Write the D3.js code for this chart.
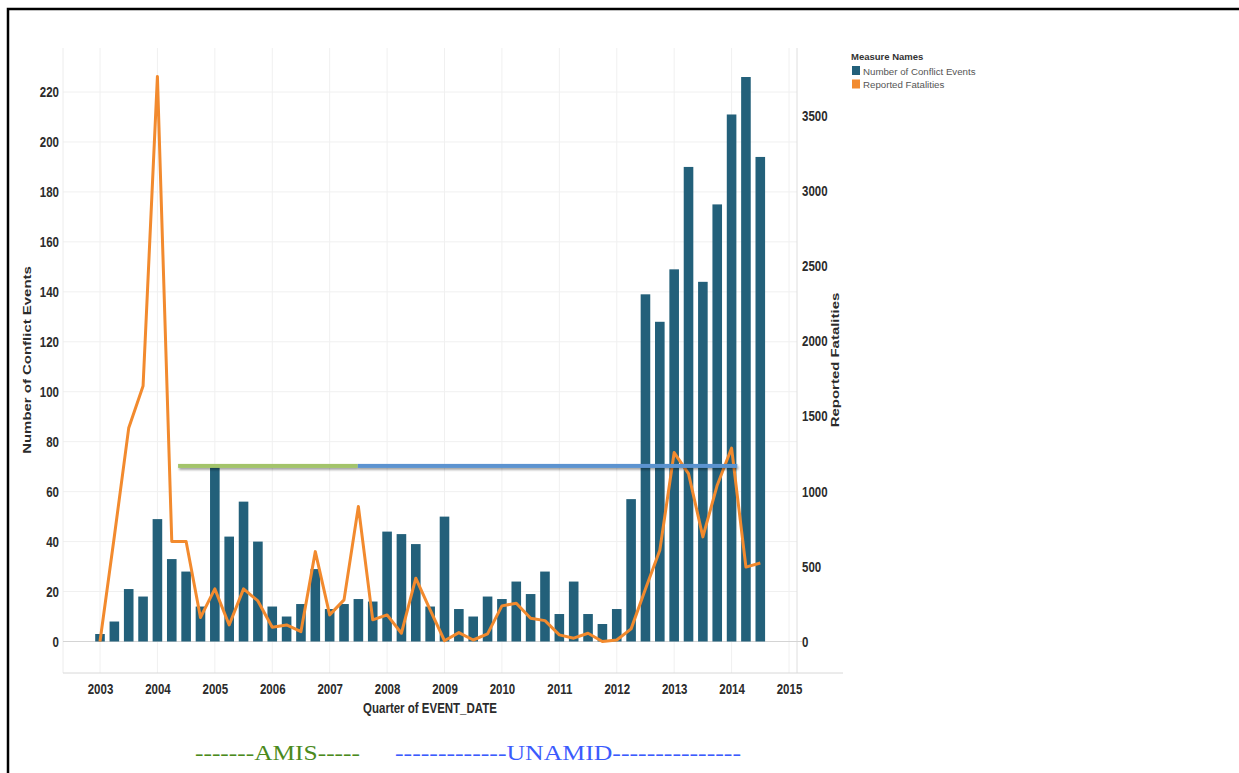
<title>Conflict Events and Fatalities</title>

<script src="https://cdn.jsdelivr.net/npm/d3@7"></script>
<style>
    body {
      margin: 0;
      background: #fff;
      font-family: "Liberation Sans", Arial, sans-serif;
    }
</style>

<body>
    <div id="plot"></div>
</body>

<script>
    // quarterly counts, 2003 Q1 .. 2014 Q3
    var quarters = [];
    for (var yr = 2003; yr <= 2014; yr++) {
        for (var q = 1; q <= 4; q++) {
            if (yr == 2014 && q > 3) break;
            quarters.push(yr + " Q" + q);
        }
    }

    var conflictEvents = [3, 8, 21, 18,  49, 33, 28, 14,  70, 42, 56, 40,
                          14, 10, 15, 29,  13, 15, 17, 16,  44, 43, 39, 14,
                          50, 13, 10, 18,  17, 24, 19, 28,  11, 24, 11, 7,
                          13, 57, 139, 128,  149, 190, 144, 175,  211, 226, 194];

    var fatalities = [0, 700, 1420, 1700,  3760, 665, 665, 160,  350, 110, 350, 270,
                      95, 110, 66, 598,  177, 277, 898, 144,  177, 55, 421, 210,
                      5, 59, 10, 51,  237, 255, 155, 139,  44, 22, 55, 0,
                      10, 84, 350, 607,  1257, 1117, 696, 1040,  1287, 495, 522];

    var yearTicks = [2003, 2004, 2005, 2006, 2007, 2008, 2009, 2010, 2011, 2012, 2013, 2014, 2015];
    var eventTicks = [0, 20, 40, 60, 80, 100, 120, 140, 160, 180, 200, 220];
    var fatalityTicks = [0, 500, 1000, 1500, 2000, 2500, 3000, 3500];

    // mission periods drawn as the annotation bar (in years, level on left axis)
    var missionNames = ["AMIS", "UNAMID"];
    var missionStart = [2004.36, 2007.49];
    var missionEnd = [2007.49, 2014.1];
    var missionLevel = 70.3;

    var legendNames = ["Number of Conflict Events", "Reported Fatalities"];

    var barColor = "#23607a",
        lineColor = "#f28a2e",
        missionColors = ["#a3c46a", "#5b93d0"],
        textColor = "#2b2b2b",
        stretch = 1.3;

    var W = 1239, H = 773;
    var pane = {left: 63, right: 797, top: 48, bottom: 673};

    var svg = d3.select("#plot")
        .append("svg")
            .attr("width", W)
            .attr("height", H);

    var defs = svg.append("defs");
    defs.append("filter")
        .attr("id", "shadow")
        .attr("filterUnits", "userSpaceOnUse")
        .attr("x", 0).attr("y", 0)
        .attr("width", W).attr("height", H)
      .append("feDropShadow")
        .attr("dx", 1).attr("dy", 2)
        .attr("stdDeviation", 1.2)
        .attr("flood-color", "#000")
        .attr("flood-opacity", 0.35);

    // scales
    var x = d3.scaleLinear()
        .domain([2003, 2015])
        .range([100, 789]);

    var yL = d3.scaleLinear()
        .domain([0, 220])
        .range([641.5, 92]);

    var yR = d3.scaleLinear()
        .domain([0, 3500])
        .range([641.5, 115.5]);

    function qx(i) { return x(2003 + i * 0.25); }

    // grid
    var grid = svg.append("g");
    grid.selectAll(".hg")
        .data(eventTicks.filter(function (d) { return d != 0; }))
        .enter().append("line")
        .attr("x1", pane.left).attr("x2", pane.right)
        .attr("y1", function (d) { return yL(d); })
        .attr("y2", function (d) { return yL(d); })
        .attr("stroke", "#f0f0f0");
    grid.selectAll(".vg")
        .data(yearTicks)
        .enter().append("line")
        .attr("x1", function (d) { return x(d); })
        .attr("x2", function (d) { return x(d); })
        .attr("y1", pane.top).attr("y2", pane.bottom)
        .attr("stroke", "#f0f0f0");
    grid.append("line")
        .attr("x1", pane.left).attr("x2", pane.left)
        .attr("y1", pane.top).attr("y2", pane.bottom)
        .attr("stroke", "#ececec");
    grid.append("line")
        .attr("x1", pane.right).attr("x2", pane.right)
        .attr("y1", pane.top).attr("y2", pane.bottom)
        .attr("stroke", "#dedede");
    grid.append("line")
        .attr("x1", pane.left).attr("x2", 843)
        .attr("y1", pane.bottom).attr("y2", pane.bottom)
        .attr("stroke", "#d8d8d8");
    grid.append("line")
        .attr("x1", pane.left).attr("x2", pane.right + 5)
        .attr("y1", yL(0)).attr("y2", yL(0))
        .attr("stroke", "#d4d4d4");

    // bars
    svg.append("g")
        .selectAll("rect")
        .data(conflictEvents)
        .enter()
        .append("rect")
        .attr("x", function (d, i) { return qx(i) - 4.8; })
        .attr("width", 9.6)
        .attr("y", function (d) { return yL(d); })
        .attr("height", function (d) { return yL(0) - yL(d); })
        .attr("fill", barColor);

    // fatalities line
    var line = d3.line()
        .x(function (d, i) { return qx(i); })
        .y(function (d) { return yR(d); });
    svg.append("path")
        .datum(fatalities)
        .attr("d", line)
        .attr("fill", "none")
        .attr("stroke", lineColor)
        .attr("stroke-width", 3)
        .attr("stroke-linejoin", "round");

    // mission bars
    svg.append("g")
        .attr("filter", "url(#shadow)")
        .selectAll("rect")
        .data(missionNames)
        .enter().append("rect")
        .attr("x", function (d, i) { return x(missionStart[i]); })
        .attr("width", function (d, i) { return x(missionEnd[i]) - x(missionStart[i]); })
        .attr("y", yL(missionLevel) - 2)
        .attr("height", 4)
        .attr("fill", function (d, i) { return missionColors[i]; });

    // axes
    function styleAxis(g) {
        g.select(".domain").remove();
        g.selectAll("line").remove();
        g.selectAll("text")
            .attr("fill", textColor)
            .attr("font-family", "'Liberation Sans', Arial, sans-serif")
            .attr("font-size", "11.5px")
            .attr("font-weight", "bold");
    }

    var gx = svg.append("g")
        .attr("transform", "translate(0," + pane.bottom + ")")
        .call(d3.axisBottom(x).tickValues(yearTicks).tickFormat(d3.format("d")).tickSize(0))
        .call(styleAxis);
    gx.selectAll("text")
        .attr("y", 8.2)
        .attr("transform", "scale(1," + stretch + ")");

    var gl = svg.append("g")
        .attr("transform", "translate(59,0)")
        .call(d3.axisLeft(yL).tickValues(eventTicks).tickSize(0).tickPadding(0))
        .call(styleAxis);
    gl.selectAll("text").attr("transform", "scale(1," + stretch + ")");

    var gr = svg.append("g")
        .attr("transform", "translate(802,0)")
        .call(d3.axisRight(yR).tickValues(fatalityTicks).tickFormat(d3.format("d")).tickSize(0).tickPadding(0))
        .call(styleAxis);
    gr.selectAll("text").attr("transform", "scale(1," + stretch + ")");

    // axis titles
    function title(txt, tx, ty, rot) {
        svg.append("text")
            .attr("transform", "translate(" + tx + "," + ty + ") scale(1," + stretch + ")" + (rot ? " rotate(-90)" : ""))
            .attr("text-anchor", "middle")
            .attr("dy", "0.36em")
            .attr("fill", textColor)
            .attr("font-size", "11.5px")
            .attr("font-weight", "bold")
            .text(txt);
    }
    title("Quarter of EVENT_DATE", 430, 708, false);
    title("Number of Conflict Events", 27, 360, true);
    title("Reported Fatalities", 835, 360, true);

    // legend
    var legend = svg.append("g").attr("transform", "translate(851,0)");
    legend.append("text")
        .attr("x", 0).attr("y", 60)
        .attr("font-size", "9.5px")
        .attr("font-weight", "bold")
        .attr("fill", "#333")
        .text("Measure Names");
    legend.selectAll(".sw")
        .data(legendNames)
        .enter().append("rect")
        .attr("x", 1)
        .attr("y", function (d, i) { return 66 + i * 13.5; })
        .attr("width", 8).attr("height", 9)
        .attr("fill", function (d, i) { return i == 0 ? barColor : lineColor; });
    legend.selectAll(".lt")
        .data(legendNames)
        .enter().append("text")
        .attr("x", 12)
        .attr("y", function (d, i) { return 74.5 + i * 13.5; })
        .attr("font-size", "9.7px")
        .attr("fill", "#555")
        .text(function (d) { return d; });

    // mission captions below the chart
    var captionX = [195, 395], captionW = [165, 346];
    var captionColor = ["#4b8a1c", "#3b5bfd"];
    var captionText = ["-------AMIS-----", "-------------UNAMID---------------"];
    svg.selectAll(".cap")
        .data(captionText)
        .enter().append("text")
        .attr("x", function (d, i) { return captionX[i]; })
        .attr("y", 760)
        .attr("textLength", function (d, i) { return captionW[i]; })
        .attr("lengthAdjust", "spacingAndGlyphs")
        .attr("font-family", "'Liberation Serif', 'DejaVu Serif', serif")
        .attr("font-size", "22px")
        .attr("fill", function (d, i) { return captionColor[i]; })
        .text(function (d) { return d; });

    // frame
    svg.append("rect")
        .attr("x", 8).attr("y", 9)
        .attr("width", W + 20).attr("height", H + 20)
        .attr("fill", "none")
        .attr("stroke", "#000")
        .attr("stroke-width", 2.5);
</script>
